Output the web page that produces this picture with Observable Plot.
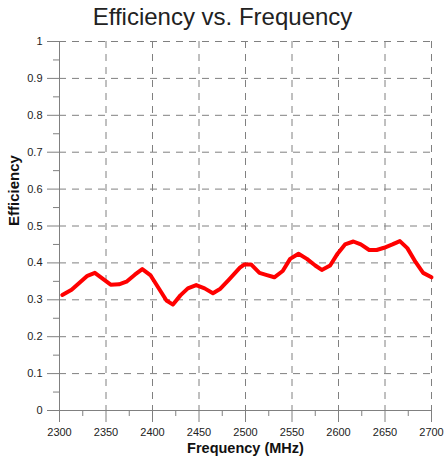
<!DOCTYPE html>
<html><head><meta charset="utf-8">
<script src="https://cdn.jsdelivr.net/npm/d3@7"></script>
<script src="https://cdn.jsdelivr.net/npm/@observablehq/plot@0.6"></script>
<style>
body{margin:0;background:#fff;font-family:"Liberation Sans",Arial,sans-serif;}
#title{height:34px;line-height:34px;text-align:center;font-size:24px;color:#222;}
</style></head><body>
<div id="title">Efficiency vs. Frequency</div>
<div id="chart"></div>
<script>
const freq = [2303, 2313, 2330, 2338, 2355, 2364, 2372, 2381, 2389, 2398, 2406, 2415, 2422, 2430, 2438, 2447, 2456, 2465, 2473, 2482, 2494, 2499, 2506, 2515, 2523, 2531, 2540, 2548, 2557, 2566, 2575, 2582, 2591, 2599, 2607, 2616, 2624, 2633, 2641, 2649, 2658, 2666, 2674, 2683, 2691, 2700];
const eff  = [0.313, 0.327, 0.365, 0.373, 0.341, 0.342, 0.349, 0.368, 0.383, 0.366, 0.334, 0.298, 0.287, 0.312, 0.331, 0.340, 0.331, 0.318, 0.330, 0.354, 0.387, 0.396, 0.396, 0.373, 0.367, 0.361, 0.378, 0.411, 0.425, 0.411, 0.393, 0.381, 0.393, 0.425, 0.450, 0.458, 0.450, 0.435, 0.435, 0.441, 0.450, 0.459, 0.440, 0.402, 0.373, 0.361];
const xTicks = [2300, 2350, 2400, 2450, 2500, 2550, 2600, 2650, 2700];
const xMinor = [2325, 2375, 2425, 2475, 2525, 2575, 2625, 2675];
const yTicks = [0, 0.1, 0.2, 0.3, 0.4, 0.5, 0.6, 0.7, 0.8, 0.9, 1];
const yMinor = [0.05, 0.15, 0.25, 0.35, 0.45, 0.55, 0.65, 0.75, 0.85, 0.95];
const xLabel = "Frequency (MHz)";
const yLabel = "Efficiency";

const data = freq.map((f, i) => ({f, e: eff[i]}));
const gray = "#808080";
const chart = Plot.plot({
  width: 445, height: 426,
  marginTop: 7, marginBottom: 50, marginLeft: 59, marginRight: 14,
  x: {domain: [2300, 2700]},
  y: {domain: [0, 1]},
  style: {fontFamily: '"Liberation Sans", Arial, sans-serif', fontSize: "11px", background: "white", color: "#222"},
  marks: [
    Plot.gridX(xTicks, {stroke: gray, strokeOpacity: 1, strokeDasharray: "7,6"}),
    Plot.gridY(yTicks, {stroke: gray, strokeOpacity: 1, strokeDasharray: "7,6"}),
    Plot.ruleX([2300], {stroke: gray}),
    Plot.ruleY([0], {stroke: gray}),
    Plot.axisX(xTicks, {tickSize: 12, tickPadding: 6, tickFormat: d => String(d), stroke: gray, fill: "#222", label: null}),
    Plot.axisX(xMinor, {tickSize: 6, tickFormat: () => "", stroke: gray, label: null}),
    Plot.axisY(yTicks, {tickSize: 12, tickPadding: 5, tickFormat: d => String(d), stroke: gray, fill: "#222", label: null}),
    Plot.axisY(yMinor, {tickSize: 6, tickFormat: () => "", stroke: gray, label: null}),
    Plot.line(data, {x: "f", y: "e", stroke: "#ff0000", strokeWidth: 4, strokeLinejoin: "round"}),
    Plot.text([yLabel], {frameAnchor: "left", dx: -45, rotate: -90, fontSize: 15, fontWeight: "bold", fill: "#111"}),
    Plot.text([xLabel], {frameAnchor: "bottom", dy: 42, fontSize: 14.5, fontWeight: "bold", fill: "#111"})
  ]
});
document.getElementById("chart").appendChild(chart);
</script>
</body></html>
